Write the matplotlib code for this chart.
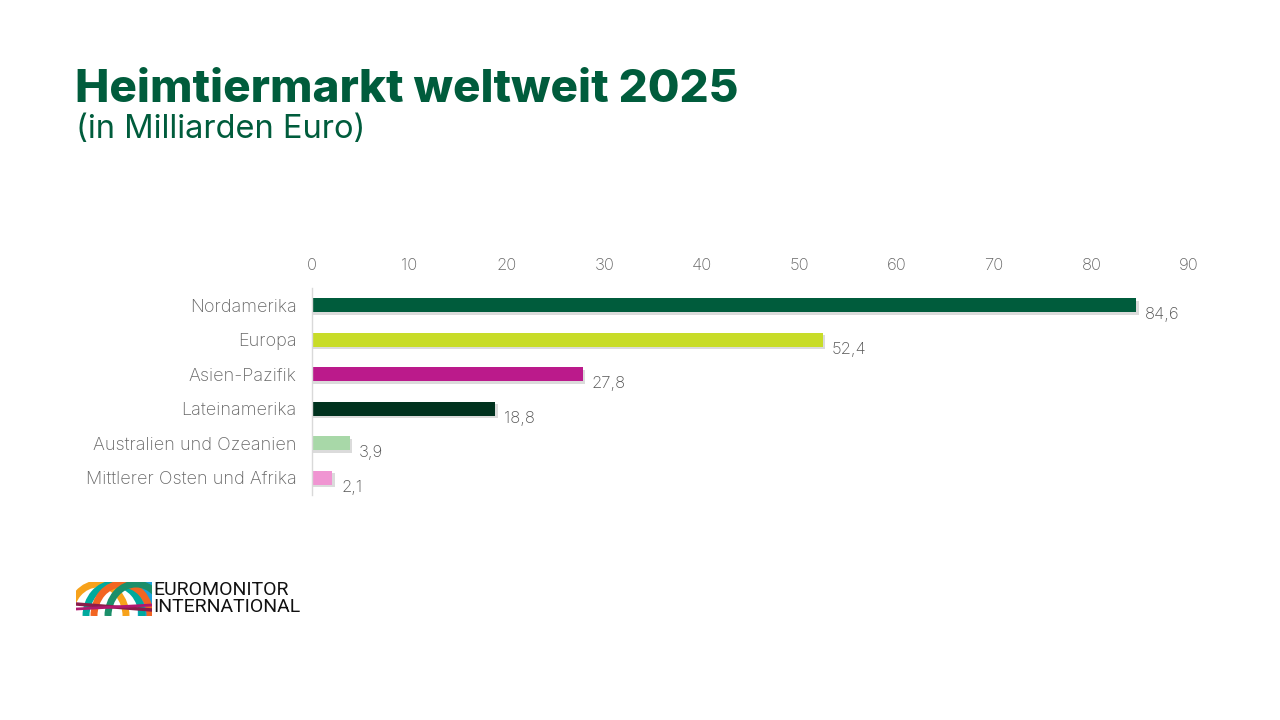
import numpy as np
import matplotlib
matplotlib.use('Agg')
from matplotlib import pyplot as plt
from matplotlib.patches import Arc

regions = ['Nordamerika', 'Europa', 'Asien-Pazifik', 'Lateinamerika',
           'Australien und Ozeanien', 'Mittlerer Osten und Afrika']
values = [84.6, 52.4, 27.8, 18.8, 3.9, 2.1]
value_labels = ['84,6', '52,4', '27,8', '18,8', '3,9', '2,1']
bar_colors = ['#005c3c', '#c8dc28', '#bb1a8b', '#00321e', '#a8d8a8', '#f095d2']
ticks = [0, 10, 20, 30, 40, 50, 60, 70, 80, 90]

GREEN = '#005c3c'
GREY = '#666666'
plt.rcParams['font.family'] = ['Inter', 'DejaVu Sans']

fig = plt.figure(figsize=(12.8, 7.2), dpi=100)
fig.patch.set_facecolor('white')

# title
fig.text(75/1280, 1-90/720, 'Heimtiermarkt weltweit 2025', fontsize=33, fontweight='heavy',
         color=GREEN, va='center', ha='left')
fig.text(76/1280, 1-130/720, '(in Milliarden Euro)', fontsize=23.5, color=GREEN,
         va='center', ha='left')

ax = fig.add_axes([312/1280, 1-495/720, (1189-312)/1280, 207/720])
y = np.arange(len(regions))

# soft shadow under bars
ax.barh(y + 0.07, [v + 0.25 for v in values], height=0.4, color='#888888', alpha=0.3, zorder=1)
ax.barh(y, values, height=0.4, color=bar_colors, zorder=2)

for yi, v, lab in zip(y, values, value_labels):
    ax.text(v + 0.9, yi + 0.27, lab, fontsize=12, color='#555555', va='center', ha='left',
            fontweight='light')

ax.set_xlim(0, 90)
ax.set_ylim(len(regions) - 0.5, -0.5)
ax.set_xticks(ticks)
ax.set_xticklabels([str(t) for t in ticks], fontweight='light')
ax.xaxis.tick_top()
ax.tick_params(axis='x', length=0, pad=11, labelsize=12, labelcolor=GREY)
ax.set_yticks(y)
ax.set_yticklabels(regions, fontweight='light')
ax.tick_params(axis='y', length=0, pad=11, labelsize=13, labelcolor=GREY)
for s in ['top', 'right', 'bottom']:
    ax.spines[s].set_visible(False)
ax.spines['left'].set_color('#d9d9d9')
ax.spines['left'].set_linewidth(1)

# logo (approximation)
lax = fig.add_axes([76/1280, 1-616/720, 76/1280, 34/720])
lax.set_xlim(0, 76)
lax.set_ylim(0, 34)
lax.axis('off')
lax.add_patch(plt.Rectangle((62, 0), 14, 34, color='#1aa0d8', zorder=0))
arc_specs = [(22, '#f7a21b'), (38, '#00a99d'), (46, '#f26522'), (60, '#1b8f6a')]
for cx, c in arc_specs:
    lax.add_patch(Arc((cx, 0), 56, 64, theta1=0, theta2=180, color=c, lw=5))
lax.plot([0, 76], [12, 6], color='#8a1c4a', lw=2.5)
lax.plot([0, 76], [7, 11], color='#b0186f', lw=2)
fig.text(153/1280, 1-590/720, 'EUROMONITOR', fontsize=14, color='#111111',
         va='center', ha='left', family=['Roboto', 'DejaVu Sans'])
fig.text(153/1280, 1-607/720, 'INTERNATIONAL', fontsize=14, color='#111111',
         va='center', ha='left', family=['Roboto', 'DejaVu Sans'])

fig.savefig('out.png', dpi=100, facecolor='white')
